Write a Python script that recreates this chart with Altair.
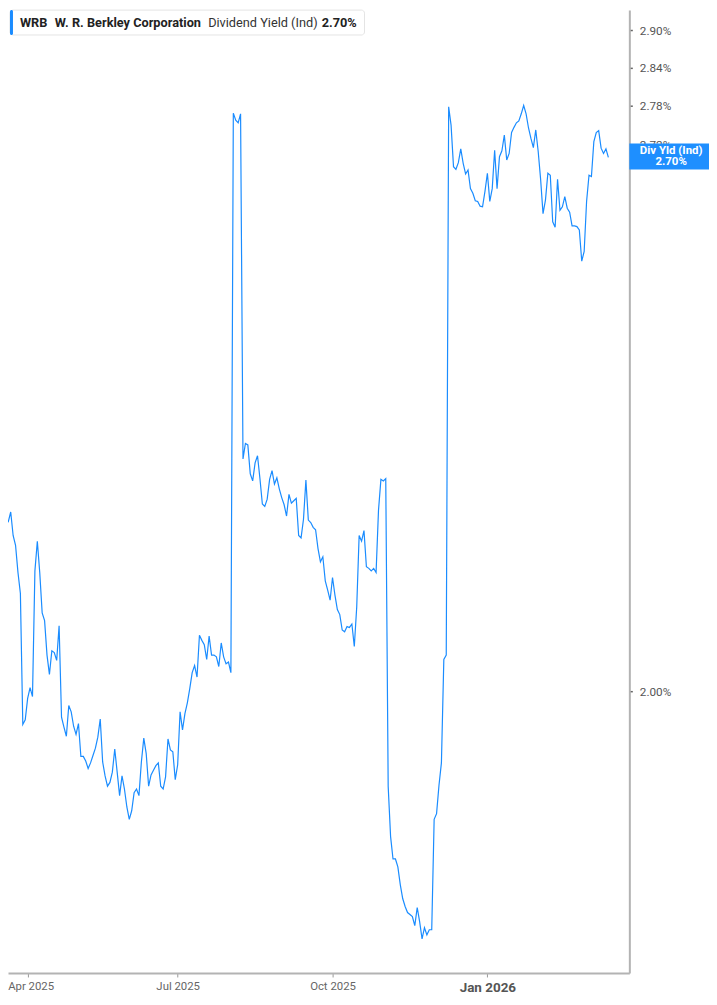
import altair as alt
import pandas as pd

# Dividend yield (%) per trading day, mid-Mar 2025 .. mid-Mar 2026
dividend_yield = [
    2.197, 2.206, 2.197, 2.200, 2.212, 2.183, 2.171, 2.138, 2.113, 1.963,
    1.968, 1.992, 2.004, 1.994, 2.140, 2.176, 2.138, 2.090, 2.081, 2.041,
    2.019, 2.046, 2.044, 2.035, 2.075, 1.971, 1.960, 1.950, 1.984, 1.977,
    1.961, 1.952, 1.964, 1.928, 1.928, 1.923, 1.915, 1.921, 1.929, 1.937,
    1.949, 1.969, 1.922, 1.907, 1.896, 1.900, 1.911, 1.936, 1.911, 1.886,
    1.907, 1.893, 1.874, 1.861, 1.870, 1.889, 1.893, 1.886, 1.922, 1.948,
    1.931, 1.896, 1.908, 1.913, 1.918, 1.921, 1.896, 1.893, 1.906, 1.947,
    1.935, 1.933, 1.903, 1.919, 1.977, 1.957, 1.975, 1.987, 2.003, 2.021,
    2.029, 2.016, 2.064, 2.058, 2.053, 2.036, 2.063, 2.041, 2.041, 2.039,
    2.028, 2.055, 2.039, 2.031, 2.033, 2.021, 2.768, 2.757, 2.753, 2.767,
    2.279, 2.299, 2.297, 2.260, 2.251, 2.274, 2.283, 2.254, 2.222, 2.219,
    2.228, 2.253, 2.264, 2.247, 2.255, 2.241, 2.230, 2.221, 2.207, 2.234,
    2.223, 2.226, 2.229, 2.183, 2.180, 2.203, 2.252, 2.202, 2.199, 2.193,
    2.190, 2.167, 2.151, 2.157, 2.128, 2.117, 2.105, 2.132, 2.111, 2.094,
    2.088, 2.070, 2.068, 2.074, 2.073, 2.077, 2.051, 2.097, 2.183, 2.176,
    2.189, 2.145, 2.143, 2.140, 2.143, 2.138, 2.214, 2.253, 2.251, 2.254,
    1.896, 1.843, 1.820, 1.820, 1.812, 1.794, 1.780, 1.772, 1.766, 1.764,
    1.762, 1.753, 1.771, 1.757, 1.740, 1.751, 1.744, 1.749, 1.749, 1.861,
    1.867, 1.897, 1.921, 2.036, 2.041, 2.778, 2.749, 2.686, 2.682, 2.692,
    2.713, 2.691, 2.675, 2.681, 2.653, 2.646, 2.635, 2.634, 2.627, 2.626,
    2.649, 2.676, 2.634, 2.653, 2.711, 2.653, 2.701, 2.710, 2.734, 2.696,
    2.706, 2.738, 2.746, 2.753, 2.756, 2.767, 2.780, 2.767, 2.745, 2.729,
    2.715, 2.742, 2.709, 2.667, 2.616, 2.636, 2.676, 2.673, 2.604, 2.596,
    2.667, 2.621, 2.626, 2.641, 2.624, 2.618, 2.598, 2.598, 2.597, 2.592,
    2.547, 2.561, 2.634, 2.673, 2.671, 2.724, 2.738, 2.741, 2.714, 2.706,
    2.713, 2.700,
]

# x axis: trading-day index of first session of each labelled month
tick_index = [11, 73, 137, 201]
tick_labels = ["Apr 2025", "Jul 2025", "Oct 2025", "Jan 2026"]
y_ticks = [2.00, 2.72, 2.78, 2.84, 2.90]

ticker = "WRB"
company = "W. R. Berkley Corporation"
metric = "Dividend Yield (Ind)"
badge_name = "Div Yld (Ind)"

df = pd.DataFrame({"day": list(range(len(dividend_yield))), "yield": dividend_yield})
last_txt = f"{dividend_yield[-1]:.2f}%"

FONT = "Roboto"
BLUE = "#1a8cff"

label_expr = " : ".join(
    f"datum.value == {i} ? '{l}'" for i, l in zip(tick_index, tick_labels)
) + " : ''"
is_last = f"datum.value == {tick_index[-1]}"
is_first = f"datum.value == {tick_index[0]}"

x_enc = alt.X(
    "day:Q",
    scale=alt.Scale(domain=[2.88, 259.67], nice=False, zero=False),
    axis=alt.Axis(
        values=tick_index,
        labelExpr=label_expr,
        grid=False,
        title=None,
        domainColor="#b3b3b3",
        domainWidth=2,
        tickColor="#999999",
        tickSize=4,
        tickWidth=1,
        labelPadding=4,
        labelFont=FONT,
        labelOffset={"condition": {"test": is_first, "value": 3}, "value": 0},
        labelFontSize={"condition": {"test": is_last, "value": 13.5}, "value": 11.4},
        labelFontWeight={"condition": {"test": is_last, "value": "bold"}, "value": "normal"},
        labelColor={"condition": {"test": is_last, "value": "#555555"}, "value": "#666666"},
    ),
)

y_enc = alt.Y(
    "yield:Q",
    scale=alt.Scale(type="log", domain=[1.7070, 2.9331], nice=False, zero=False),
    axis=alt.Axis(
        orient="right",
        values=y_ticks,
        labelExpr="format(datum.value, '.2f') + '%'",
        grid=False,
        title=None,
        domainColor="#b3b3b3",
        domainWidth=2,
        tickColor="#666666",
        tickSize=3,
        tickWidth=1.5,
        labelPadding=7,
        labelFont=FONT,
        labelFontSize=11.8,
        labelColor="#555555",
    ),
)

line = alt.Chart(df).mark_line(color=BLUE, strokeWidth=1.2, clip=True).encode(x=x_enc, y=y_enc)

one = pd.DataFrame({"k": [0]})

box = alt.Chart(one).mark_rect(fill="white", stroke="#e4e4e4", strokeWidth=1, cornerRadius=3).encode(
    x=alt.value(2), x2=alt.value(358), y=alt.value(0), y2=alt.value(25)
)
bar = alt.Chart(one).mark_rect(fill=BLUE, cornerRadius=1.5).encode(
    x=alt.value(2), x2=alt.value(5), y=alt.value(0), y2=alt.value(25)
)


def txt(s, x, y, weight="normal", size=12.8, color="#222222", align="left"):
    return alt.Chart(one).mark_text(
        text=s, align=align, baseline="middle", font=FONT, fontSize=size,
        fontWeight=weight, color=color,
    ).encode(x=alt.value(x), y=alt.value(y))


t1 = txt(ticker, 12, 13, "bold")
t2 = txt(company, 47, 13, "bold")
t3 = txt(metric, 201, 13, "normal", color="#333333")
t4 = txt(last_txt, 315, 13, "bold")

badge = alt.Chart(one).mark_rect(fill="#1e8fff").encode(
    x=alt.value(624), x2=alt.value(704), y=alt.value(134), y2=alt.value(160)
)
b1 = txt(badge_name, 666, 142, "bold", 11.5, "white", "center")
b2 = txt(last_txt, 666, 153, "bold", 11.5, "white", "center")

chart = alt.layer(line, box, bar, t1, t2, t3, t4, badge, b1, b2).properties(
    width=624,
    height=967,
    autosize=alt.AutoSizeParams(type="none"),
    padding={"left": 0, "top": 0, "right": 80, "bottom": 20},
).configure_view(stroke=None)

chart.save("out.html", embed_options={"renderer": "svg", "actions": False})
